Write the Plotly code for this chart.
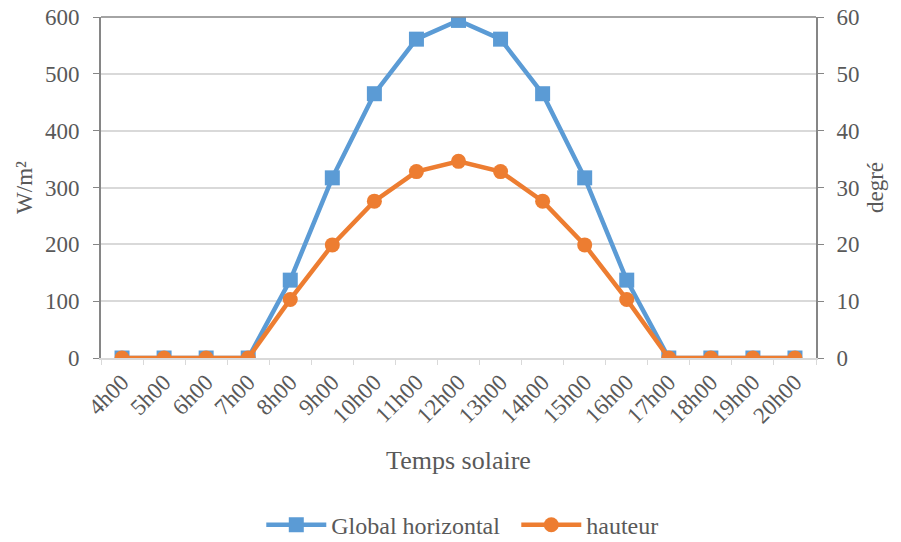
import plotly.graph_objects as go

hours = ["4h00", "5h00", "6h00", "7h00", "8h00", "9h00", "10h00", "11h00", "12h00",
         "13h00", "14h00", "15h00", "16h00", "17h00", "18h00", "19h00", "20h00"]
global_horizontal = [0, 0, 0, 0, 137, 317, 465, 561, 594, 561, 465, 317, 137, 0, 0, 0, 0]
hauteur = [0, 0, 0, 0, 10.3, 19.9, 27.6, 32.8, 34.6, 32.8, 27.6, 19.9, 10.3, 0, 0, 0, 0]

blue = "#5B9BD5"
orange = "#ED7D31"
txt = "#595959"
axc = "#868686"
grid = "#D9D9D9"
fnt = "Liberation Serif, Times New Roman, DejaVu Serif, serif"

fig = go.Figure()
fig.add_trace(go.Scatter(x=hours, y=global_horizontal, name="Global horizontal",
                         mode="lines+markers",
                         line=dict(color=blue, width=4.5),
                         marker=dict(symbol="square", size=15, color=blue)))
fig.add_trace(go.Scatter(x=hours, y=hauteur, name="hauteur", yaxis="y2",
                         mode="lines+markers",
                         line=dict(color=orange, width=4.5),
                         marker=dict(symbol="circle", size=15, color=orange)))

fig.update_layout(
    width=901, height=542,
    margin=dict(l=101, r=85, t=17, b=184, autoexpand=False),
    plot_bgcolor="white", paper_bgcolor="white",
    font=dict(family=fnt, color=txt, size=23),
    xaxis=dict(
        type="category", tickangle=-45, tickson="boundaries", automargin=False,
        ticks="outside", ticklen=5, tickcolor=grid,
        showline=True, linecolor=grid, linewidth=1.5, mirror=False,
        showgrid=False, tickfont=dict(size=23, color=txt),
        title=dict(text="Temps solaire", font=dict(size=26, color=txt), standoff=24),
        range=[-0.5, 16.5],
    ),
    yaxis=dict(
        range=[0, 600], dtick=100, showgrid=True, gridcolor=grid, gridwidth=1.5,
        automargin=False, ticklabelstandoff=9,
        showline=True, linecolor=axc, linewidth=2, ticks="outside", ticklen=6,
        tickcolor=axc, tickfont=dict(size=23, color=txt), zeroline=False,
        title=dict(text="W/m²", font=dict(size=23, color=txt), standoff=6),
    ),
    yaxis2=dict(
        range=[0, 60], dtick=10, overlaying="y", side="right", showgrid=False,
        automargin=False, ticklabelstandoff=8,
        showline=True, linecolor=axc, linewidth=2, ticks="outside", ticklen=6,
        tickcolor=axc, tickfont=dict(size=23, color=txt), zeroline=False,
        title=dict(text="degré", font=dict(size=23, color=txt), standoff=8),
    ),
    legend=dict(orientation="h", x=0.29, xanchor="left", xref="container",
                y=0.031, yanchor="middle", yref="container",
                font=dict(size=24, color=txt), itemwidth=60, entrywidth=180,
                tracegroupgap=0),
    showlegend=True,
)
fig.add_shape(type="line", xref="paper", yref="paper", x0=0, x1=1, y0=1, y1=1,
              line=dict(color=axc, width=1.5))

fig.write_html("out.html")
